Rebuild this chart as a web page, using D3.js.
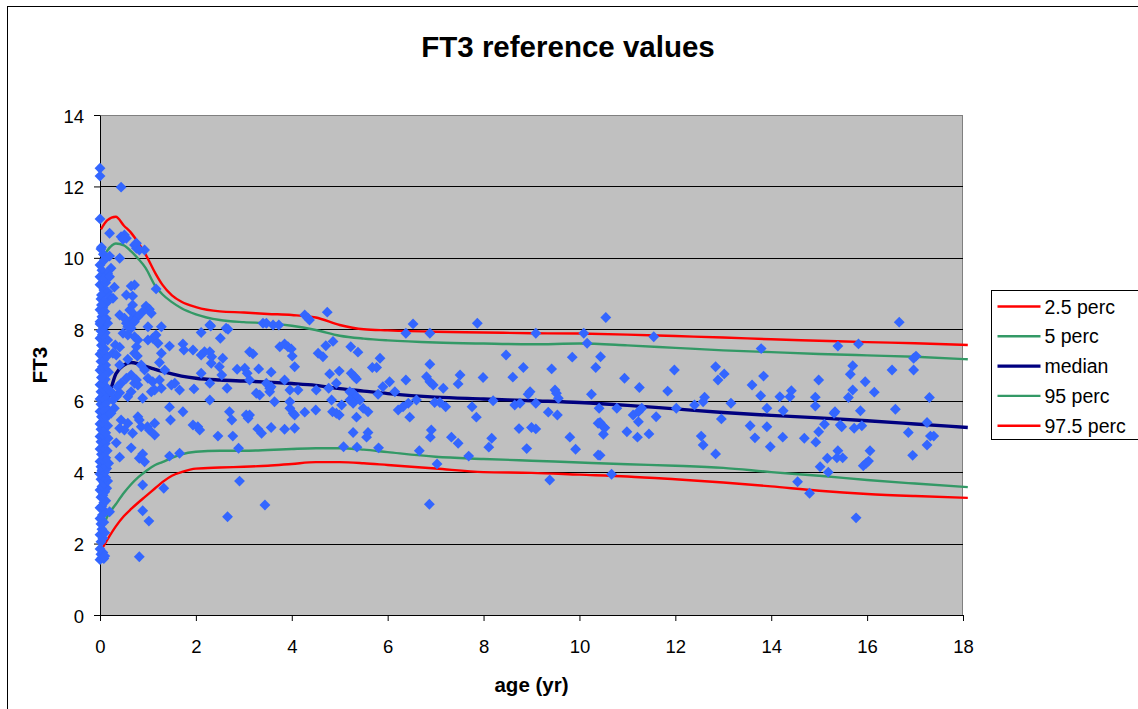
<!DOCTYPE html>
<html>
<head>
<meta charset="utf-8">
<script src="https://cdn.jsdelivr.net/npm/d3@7"></script>
<style>
  body { margin: 0; background: #fff; }
  svg { display: block; font-family: 'Liberation Sans', Arial, sans-serif; }
</style>
</head>
<body>
<svg id="chart" width="1138" height="709"></svg>
<script>
const curveAges = [0.02, 0.15, 0.33, 0.5, 0.65, 0.8, 0.95, 1.15, 1.3, 1.5, 1.7, 2.0, 2.5, 3.0, 3.5, 4.0,
  4.5, 5.0, 5.5, 6.0, 7.0, 8.0, 9.0, 10.0, 11.0, 12.0, 13.0, 14.0, 15.0, 16.0, 17.0, 18.1];

const perc2_5 = [1.8, 2.1, 2.48, 2.77, 2.97, 3.15, 3.32, 3.55, 3.72, 3.9, 4.0, 4.1, 4.13, 4.15, 4.18, 4.23,
  4.28, 4.28, 4.25, 4.2, 4.1, 4.0, 3.98, 3.93, 3.88, 3.8, 3.71, 3.6, 3.48, 3.39, 3.33, 3.28];
const perc5 = [2.3, 2.75, 3.1, 3.42, 3.66, 3.86, 4.02, 4.2, 4.28, 4.4, 4.5, 4.57, 4.6, 4.6, 4.62, 4.65,
  4.67, 4.67, 4.63, 4.56, 4.43, 4.37, 4.32, 4.27, 4.22, 4.18, 4.12, 4.0, 3.9, 3.78, 3.68, 3.58];
const median = [5.72, 6.0, 6.75, 7.0, 7.07, 7.03, 6.96, 6.88, 6.82, 6.75, 6.69, 6.63, 6.58, 6.55, 6.52, 6.48,
  6.43, 6.34, 6.27, 6.2, 6.1, 6.05, 6.0, 5.95, 5.87, 5.77, 5.67, 5.59, 5.52, 5.44, 5.35, 5.25];
const perc95 = [9.9, 10.2, 10.4, 10.35, 10.18, 9.97, 9.72, 9.22, 8.98, 8.76, 8.59, 8.42, 8.26, 8.2, 8.17, 8.1,
  7.98, 7.82, 7.74, 7.69, 7.63, 7.6, 7.58, 7.6, 7.55, 7.48, 7.41, 7.36, 7.31, 7.27, 7.23, 7.16];
const perc97_5 = [10.8, 11.05, 11.15, 10.9, 10.7, 10.42, 10.1, 9.58, 9.25, 8.95, 8.77, 8.62, 8.5, 8.47, 8.43, 8.4,
  8.33, 8.12, 8.0, 7.97, 7.93, 7.91, 7.89, 7.88, 7.85, 7.81, 7.77, 7.72, 7.68, 7.64, 7.61, 7.56];

// newborn measurements, the dense column at age ~0  [age, FT3]
const newbornPoints = [
  [0,1.55],[0.04,1.6],[0.08,1.58],[0.02,1.7],[0.06,1.75],[0,1.85],[0.1,1.65],
  [0.02,2.05],[0.06,2.15],[0,2.25],[0.1,2.3],[0.04,2.4],[0.02,2.55],[0.08,2.6],[0,2.7],[0.05,2.8],[0.1,2.9],
  [0,3.0],[0.04,3.05],[0.08,3.15],[0.12,3.2],[0.02,3.3],[0.06,3.35],[0.1,3.45],[0,3.5],[0.14,3.55],[0.04,3.6],
  [0.08,3.7],[0.16,3.75],[0.02,3.8],[0.12,3.85],[0.06,3.9],[0,3.95],
  [0.1,4.0],[0.04,4.05],[0.14,4.1],[0.02,4.15],[0.08,4.2],[0.18,4.25],[0,4.3],[0.06,4.35],[0.12,4.4],[0.03,4.5],
  [0.09,4.55],[0.15,4.6],[0,4.65],[0.06,4.7],[0.11,4.8],[0.02,4.85],[0.08,4.9],[0.17,4.95],
  [0,5.0],[0.05,5.05],[0.12,5.1],[0.02,5.2],[0.09,5.25],[0.16,5.3],[0,5.35],[0.05,5.4],[0.11,5.5],[0.03,5.55],
  [0.08,5.6],[0.2,5.65],[0,5.7],[0.06,5.75],[0.13,5.8],[0.02,5.9],[0.09,5.95],[0.17,6.0],
  [0,6.05],[0.05,6.1],[0.12,6.15],[0.02,6.25],[0.08,6.3],[0.15,6.35],[0,6.45],[0.06,6.5],[0.11,6.6],[0.03,6.65],
  [0.09,6.75],[0.18,6.8],[0,6.85],[0.05,6.95],
  [0.12,7.0],[0.02,7.1],[0.08,7.15],[0.15,7.25],[0,7.3],[0.05,7.4],[0.1,7.45],[0.03,7.55],[0.07,7.65],[0.16,7.7],
  [0,7.75],[0.05,7.85],[0.11,7.9],[0.02,7.95],
  [0.08,8.05],[0,8.15],[0.13,8.3],[0.04,8.35],[0.1,8.5],[0,8.55],[0.06,8.6],[0.14,8.75],[0.02,8.85],
  [0.08,9.1],[0,9.25],[0.12,9.3],[0.04,9.65],[0,9.8],[0.07,10.1],[0.02,10.25]
];

// measurements in the first ~3.5 years [age, FT3]
const infantPoints = [
  [0,12.51],[0,12.29],[0.44,11.98],[0,11.09],[0.2,10.69],[0.44,10.59],[0.51,10.64],[0.55,10.55],[0.48,10.52],
  [0.03,10.3],[0.72,10.36],[0.76,10.27],[0.93,10.22],[0.76,10.41],[0.82,10.22],[0.2,10.05],[0.09,9.94],[0.41,9.99],
  [0.23,9.71],[0.16,9.57],[0,9.47],[0.09,9.43],[0.2,9.47],[1.17,9.13],[0.3,9.18],[0.16,9.05],[0.03,8.96],[0.2,8.91],
  [0.27,8.87],[0.09,8.77],[0.03,8.68],[0.65,9.21],[0.72,9.24],[0.55,8.96],[0.68,8.93],[0.96,8.65],[1.03,8.56],
  [0.89,8.49],[1.07,8.45],[0.68,8.68],[0.62,8.54],[0.72,8.4],[0.65,8.26],[0.79,8.35],[0.41,8.4],[0.51,8.31],
  [0.55,8.17],[0.06,8.45],[0.09,8.26],[0.16,8.17],[0,8.21],[1.0,8.07],[1.28,8.07],[2.29,8.12],[2.63,8.03],[3.4,8.17],
  [0.58,8.07],[0.72,8.21],[0.65,8.03],[0.48,7.89],[0.58,7.84],[0.72,7.79],[0.79,7.7],[1.0,7.7],[1.1,7.75],[1.17,7.84],
  [1.21,7.61],[2.11,7.91],[2.31,8.09],[2.51,7.75],[2.67,8.0],[1.45,7.53],[1.73,7.59],[1.75,7.42],[1.94,7.42],
  [1.28,7.33],[0.32,7.56],[0.41,7.5],[0.27,7.33],[0.34,7.28],[0.76,7.51],[0.72,7.33],[0.78,7.25],[0.58,7.16],
  [0.41,7.0],[0.86,7.0],[0.93,6.86],[1.24,7.07],[1.35,6.86],[2.11,7.28],[2.18,7.37],[2.29,7.37],[2.33,7.23],
  [2.32,7.05],[2.56,7.19],[2.49,6.95],[2.54,6.72],[2.11,6.77],[2.29,6.49],[2.65,6.35],[2.86,6.88],[3.02,6.91],
  [3.07,6.77],[0.65,6.72],[0.55,6.63],[0.44,6.49],[0.37,6.39],[0.41,6.22],[0.72,6.49],[0.79,6.44],[0.76,6.58],
  [1.0,6.63],[1.1,6.53],[1.24,6.58],[1.14,6.3],[1.07,6.25],[1.28,6.35],[1.49,6.44],[1.56,6.49],[1.66,6.3],
  [0.89,6.07],[0.65,6.25],[0.58,6.11],[0.34,6.11],[0.23,6.25],[0.27,6.02],[1.96,6.33],[1.45,5.82],[1.47,5.46],
  [1.73,5.69],[2.29,6.02],[2.7,5.69],[2.75,5.46],[3.05,5.6],[3.09,5.51],[0.3,5.79],[0.23,5.65],[0.44,5.46],
  [0.41,5.23],[0.51,5.18],[0.58,5.37],[0.79,5.55],[0.82,5.46],[0.86,5.27],[0.99,5.27],[1.03,5.18],[1.14,5.04],
  [1.14,5.37],[0.68,5.09],[1.94,5.32],[2.04,5.27],[2.08,5.18],[2.46,5.01],[2.77,5.01],[0.34,4.82],[0.65,4.68],
  [0.89,4.51],[0.93,4.29],[0.82,4.39],[0.41,4.42],[1.45,4.45],[1.66,4.53],[2.89,4.67],[3.29,5.21],[3.37,5.09],
  [0.89,3.64],[1.33,3.55],[2.91,3.75],[0.2,2.89],[0.89,2.92],[1.02,2.63],[2.66,2.75],[0.82,1.63],[3.44,3.08]
];

// measurements from ~3 to 10.5 years [age, FT3]
const childPoints = [
  [4.27,8.4],[4.34,8.31],[4.37,8.26],[4.74,8.48],[3.47,8.17],[3.61,8.12],[3.73,8.12],[6.53,8.15],[7.87,8.17],
  [6.38,7.89],[6.88,7.89],[9.09,7.89],[10.09,7.89],[10.16,7.61],[3.12,7.37],[3.19,7.31],[3.75,7.51],[3.85,7.59],
  [3.92,7.51],[3.99,7.45],[4.01,7.25],[4.55,7.33],[4.65,7.23],[4.71,7.54],[4.86,7.66],[5.23,7.51],[5.38,7.36],
  [5.84,7.19],[8.47,7.28],[9.85,7.22],[3.31,6.89],[3.57,6.8],[4.06,6.95],[4.79,6.75],[4.99,6.83],[5.24,6.77],
  [5.31,6.67],[5.35,6.61],[5.68,6.93],[5.77,6.93],[6.88,7.02],[6.38,6.58],[6.81,6.67],[6.88,6.53],[6.95,6.44],
  [7.51,6.72],[7.47,6.47],[7.16,6.35],[7.99,6.65],[8.61,6.66],[8.83,6.93],[9.42,6.89],[10.34,6.93],[3.12,6.58],
  [3.47,6.49],[3.54,6.35],[3.57,6.39],[3.54,6.25],[3.26,6.21],[3.33,6.16],[3.85,6.58],[3.96,6.3],[4.13,6.3],
  [4.51,6.3],[4.77,6.35],[4.93,6.49],[5.21,6.25],[5.28,6.21],[5.35,6.11],[5.42,6.02],[5.21,6.02],[5.28,5.93],
  [4.83,6.02],[5.04,5.88],[5.49,5.79],[5.59,5.69],[5.9,6.39],[6.04,6.53],[6.15,6.25],[5.8,6.18],[6.22,5.74],
  [6.32,5.83],[6.43,5.93],[6.6,6.02],[6.98,5.95],[7.09,5.95],[7.21,5.83],[7.76,5.83],[8.2,6.0],[8.65,5.88],
  [8.76,5.93],[8.97,6.25],[8.93,6.18],[9.09,5.93],[9.49,6.3],[9.52,6.21],[9.56,6.07],[10.25,6.18],[10.41,5.79],
  [3.12,5.6],[3.64,5.97],[3.96,5.97],[3.96,5.79],[4.03,5.65],[4.06,5.6],[4.27,5.68],[4.5,5.74],[4.85,5.69],
  [4.93,5.65],[4.99,5.6],[5.35,5.54],[6.46,5.54],[7.85,5.54],[9.35,5.68],[9.54,5.6],[10.39,5.37],[3.57,5.25],
  [3.85,5.2],[4.06,5.23],[5.28,5.11],[5.59,5.11],[5.56,4.98],[6.91,5.18],[6.89,4.98],[7.33,4.98],[7.47,4.81],
  [8.17,4.95],[8.11,4.7],[8.74,5.22],[9.0,5.25],[9.09,5.21],[9.8,4.98],[9.92,4.64],[8.9,4.66],[10.39,4.48],
  [5.08,4.71],[5.36,4.7],[5.81,4.68],[6.66,4.6],[7.69,4.45],[7.03,4.23],[9.38,3.78],[6.87,3.1]
];

// measurements from ~10.5 to 18 years [age, FT3]
const teenPoints = [
  [10.55,8.33],[16.67,8.2],[11.55,7.79],[13.79,7.46],[15.39,7.53],[15.82,7.59],[10.44,7.23],[10.94,6.63],
  [11.25,6.37],[11.84,6.27],[11.98,6.86],[10.78,5.79],[11.12,5.6],[11.23,5.69],[11.3,5.79],[11.23,5.41],
  [11.6,5.55],[12.02,5.79],[12.4,5.88],[12.58,5.97],[12.61,6.1],[12.84,6.95],[12.89,6.58],[13.02,6.75],
  [13.16,5.93],[12.96,5.49],[10.43,5.39],[10.5,5.27],[10.53,5.24],[10.5,5.06],[10.99,5.13],[11.21,4.98],
  [11.45,5.07],[10.43,4.47],[10.67,3.94],[12.54,5.01],[12.58,4.76],[12.84,4.51],[13.6,6.44],[13.84,6.69],
  [13.78,6.14],[13.56,5.3],[13.66,4.96],[13.91,5.79],[13.91,5.27],[13.98,4.71],[14.18,6.11],[14.39,6.11],
  [14.42,6.28],[14.25,5.72],[14.24,4.98],[14.69,4.95],[14.55,3.73],[14.8,3.41],[14.92,6.1],[14.92,5.85],
  [14.99,6.58],[15.11,5.34],[14.99,5.13],[14.93,4.84],[15.17,4.39],[15.19,4.0],[15.02,4.15],[15.31,5.65],
  [15.33,5.69],[15.44,5.32],[15.47,5.27],[15.39,4.6],[15.49,4.4],[15.37,4.4],[15.61,6.09],[15.7,6.3],
  [15.65,6.74],[15.7,6.98],[15.73,5.23],[15.89,5.3],[15.86,5.72],[15.96,6.53],[16.15,6.24],[16.06,4.6],
  [15.92,4.18],[15.98,4.25],[16.03,4.31],[16.52,6.86],[16.59,5.76],[16.86,5.11],[16.95,4.47],[16.97,6.86],
  [16.97,7.19],[17.02,7.25],[17.3,6.09],[17.25,5.39],[17.32,5.01],[17.39,5.01],[17.25,4.76],[15.77,2.72]
];

const xTicks = [0, 2, 4, 6, 8, 10, 12, 14, 16, 18];
const yTicks = [0, 2, 4, 6, 8, 10, 12, 14];
const gridValues = [2, 4, 6, 8, 10, 12];

const series = [
  { label: '2.5 perc', values: perc2_5, colour: '#ff0000', width: 2.4 },
  { label: '5 perc', values: perc5, colour: '#339966', width: 2.4 },
  { label: 'median', values: median, colour: '#000080', width: 3.4 },
  { label: '95 perc', values: perc95, colour: '#339966', width: 2.4 },
  { label: '97.5 perc', values: perc97_5, colour: '#ff0000', width: 2.4 }
];

const points = [...newbornPoints, ...infantPoints, ...childPoints, ...teenPoints];

const svg = d3.select('#chart');

// scales
const xScale = d3.scaleLinear().domain([0, 18]).range([100, 963]);
const yScale = d3.scaleLinear().domain([0, 14]).range([615, 115]);

// chart frame
svg.append('rect')
  .attr('x', 7.5).attr('y', 6.5)
  .attr('width', 1140).attr('height', 712)
  .attr('fill', '#fff')
  .attr('stroke', '#000');

// plot area
svg.append('rect')
  .attr('x', 100.5).attr('y', 115.5)
  .attr('width', 862).attr('height', 500)
  .attr('fill', '#c0c0c0')
  .attr('stroke', '#808080');

// gridlines
svg.append('g')
  .selectAll('line')
  .data(gridValues)
  .join('line')
    .attr('x1', xScale(0)).attr('x2', xScale(18))
    .attr('y1', d => Math.round(yScale(d)) + 0.5)
    .attr('y2', d => Math.round(yScale(d)) + 0.5)
    .attr('stroke', '#000')
    .attr('stroke-width', 1);

// axes
const yAxis = d3.axisLeft(yScale).tickValues(yTicks).tickSize(6).tickSizeOuter(0).tickPadding(10);
const xAxis = d3.axisBottom(xScale).tickValues(xTicks).tickSize(6).tickSizeOuter(0).tickPadding(19);

const yAxisG = svg.append('g')
  .attr('transform', `translate(${xScale(0)},0)`)
  .call(yAxis);
yAxisG.selectAll('text').attr('dy', '0.38em');

const xAxisG = svg.append('g')
  .attr('transform', `translate(0,${yScale(0)})`)
  .call(xAxis);

[yAxisG, xAxisG].forEach(g => {
  g.attr('font-family', null).attr('font-size', null);
  g.selectAll('path, line').attr('stroke', '#000');
  g.selectAll('text')
    .attr('fill', '#000')
    .style('font-size', '18.5px');
});

// percentile curves
const lineGenerator = d3.line()
  .x((d, i) => xScale(curveAges[i]))
  .y(d => yScale(d))
  .curve(d3.curveMonotoneX);

svg.append('g')
  .selectAll('path')
  .data(series)
  .join('path')
    .attr('d', d => lineGenerator(d.values))
    .attr('fill', 'none')
    .attr('stroke', d => d.colour)
    .attr('stroke-width', d => d.width)
    .attr('stroke-linejoin', 'round');

// measurements, drawn as square diamonds like Excel markers
const diamond = {
  draw(context, size) {
    const r = Math.sqrt(size) / 2;
    context.moveTo(0, -r);
    context.lineTo(r, 0);
    context.lineTo(0, r);
    context.lineTo(-r, 0);
    context.closePath();
  }
};

svg.append('g')
  .selectAll('path')
  .data(points)
  .join('path')
    .attr('transform', d => `translate(${xScale(d[0])},${yScale(d[1])})`)
    .attr('d', d3.symbol().type(diamond).size(118))
    .attr('fill', '#3366ff');

// titles
svg.append('text')
  .attr('x', 568).attr('y', 57)
  .attr('text-anchor', 'middle')
  .style('font-size', '29.5px')
  .style('font-weight', 'bold')
  .text('FT3 reference values');

svg.append('text')
  .attr('x', (xScale(0) + xScale(18)) / 2).attr('y', 692)
  .attr('text-anchor', 'middle')
  .style('font-size', '20.5px')
  .style('font-weight', 'bold')
  .text('age (yr)');

svg.append('text')
  .attr('transform', `translate(47,${(yScale(0) + yScale(14)) / 2}) rotate(-90)`)
  .attr('text-anchor', 'middle')
  .style('font-size', '20.5px')
  .style('font-weight', 'bold')
  .text('FT3');

// legend
const legend = svg.append('g').attr('transform', 'translate(991.5,290.5)');
legend.append('rect')
  .attr('width', 150).attr('height', 149)
  .attr('fill', '#fff')
  .attr('stroke', '#000');

const legendItems = legend.selectAll('.legend-item')
  .data(series)
  .join('g')
    .attr('class', 'legend-item')
    .attr('transform', (d, i) => `translate(0,${16 + i * 29.8})`);

legendItems.append('line')
  .attr('x1', 6).attr('x2', 49)
  .attr('stroke', d => d.colour)
  .attr('stroke-width', d => d.width);

legendItems.append('text')
  .attr('x', 53).attr('dy', '0.36em')
  .style('font-size', '19.5px')
  .text(d => d.label);
</script>
</body>
</html>
